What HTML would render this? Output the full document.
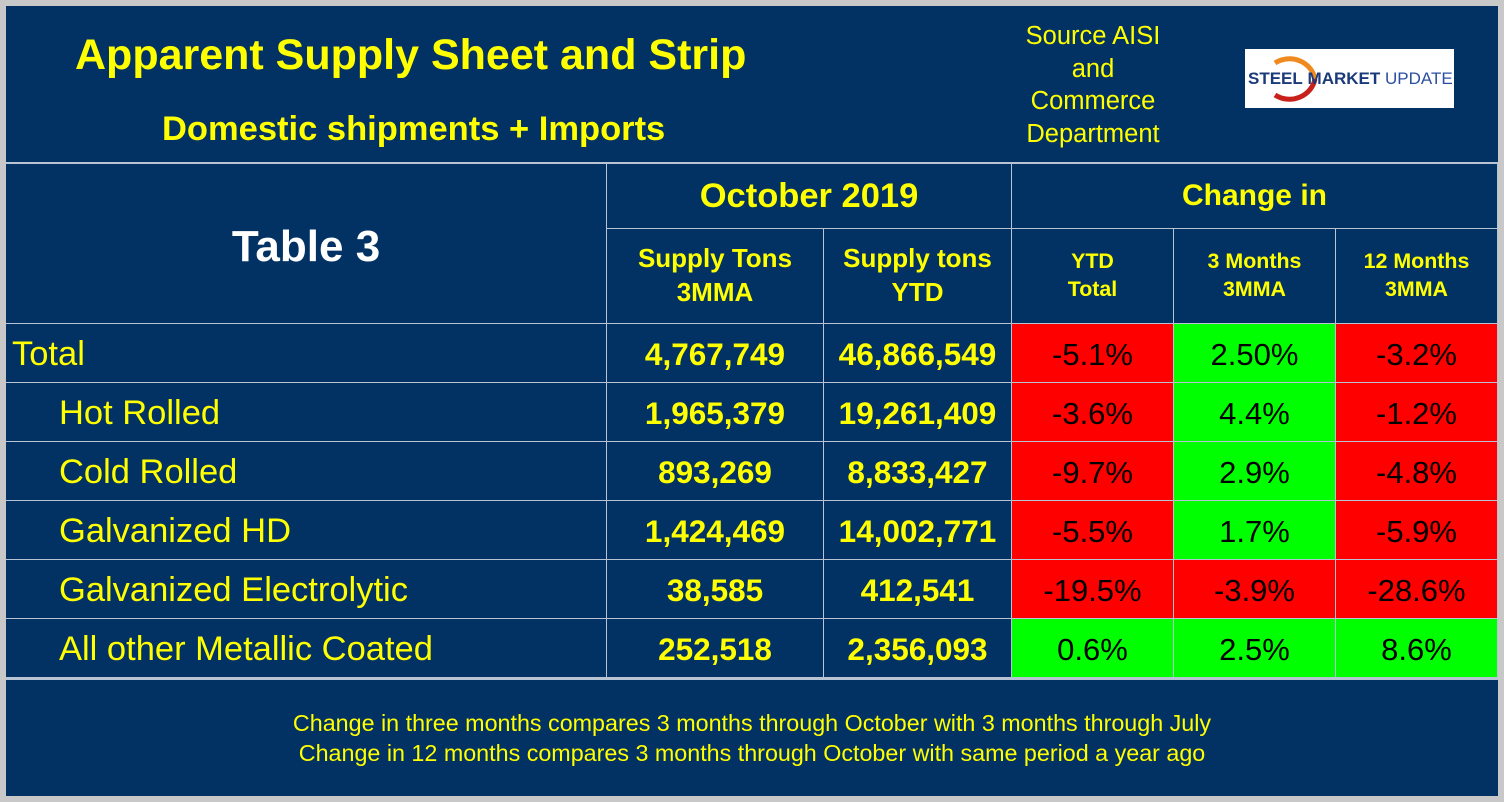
<!DOCTYPE html>
<html><head><meta charset="utf-8"><style>
body{margin:0;width:1504px;height:802px;background:#c8c8c8;position:relative;overflow:hidden;font-family:"Liberation Sans",Arial,sans-serif}
.p{position:absolute;box-sizing:border-box}
.navy{background:#023263}
.c{position:absolute;box-sizing:border-box;display:flex;align-items:center;justify-content:center;text-align:center;border-right:1px solid #b8c4d4;border-bottom:1px solid #b8c4d4;white-space:nowrap}
.y{color:#ffff00}
.b{font-weight:bold}
.red{background:#ff0000;color:#000}
.grn{background:#00ff00;color:#000}
.pct{font-size:31px}
.num{font-size:31.5px;font-weight:bold;color:#ffff00}
.lbl{justify-content:flex-start;font-size:34.5px;color:#ffff00}
</style></head><body>
<div class="p navy" style="left:6px;top:6px;width:1492px;height:790px"></div>
<div class="p y b" style="left:75px;top:31px;font-size:43px;white-space:nowrap">Apparent Supply Sheet and Strip</div>
<div class="p y b" style="left:162px;top:110px;font-size:34.5px;white-space:nowrap">Domestic shipments + Imports</div>
<div class="p y" style="left:1000px;top:20px;width:186px;text-align:center;font-size:25.5px;line-height:32.5px">Source AISI<br>and<br>Commerce<br>Department</div>
<div class="p" style="left:1245px;top:49px;width:209px;height:59px;background:#fff;overflow:hidden">
<svg width="209" height="59" style="position:absolute;left:0;top:0"><path d="M30 14 A26 25 0 0 1 70 30" stroke="#f08a20" stroke-width="5" fill="none"/><path d="M30 46 A26 25 0 0 0 70 30" stroke="#c8201a" stroke-width="5" fill="none"/></svg>
<div style="position:absolute;left:3px;top:20px;font-size:17px;white-space:nowrap;color:#1a3a7a"><b>STEEL</b> <b style="font-weight:600">MARKET</b> <span style="color:#2a4fa0">UPDATE</span></div></div>
<div class="p" style="left:6px;top:162px;width:1492px;height:2px;background:#b8c4d4"></div>
<div id="t"></div>
<div class="p" style="left:6px;top:678px;width:1492px;height:2px;background:#b8c4d4"></div>
<div class="p y" style="left:6px;top:708px;width:1492px;text-align:center;font-size:23.3px;line-height:30px">Change in three months compares 3 months through October with 3 months through July<br>Change in 12 months compares 3 months through October with same period a year ago</div>
<script>
const categories=["Total","Hot Rolled","Cold Rolled","Galvanized HD","Galvanized Electrolytic","All other Metallic Coated"];
const supply3mma=["4,767,749","1,965,379","893,269","1,424,469","38,585","252,518"];
const supplyYtd=["46,866,549","19,261,409","8,833,427","14,002,771","412,541","2,356,093"];
const chgYtd=[-5.1,-3.6,-9.7,-5.5,-19.5,0.6];
const chg3m=[2.50,4.4,2.9,1.7,-3.9,2.5];
const chg12m=[-3.2,-1.2,-4.8,-5.9,-28.6,8.6];
const chg3mLabels=["2.50%","4.4%","2.9%","1.7%","-3.9%","2.5%"];
const t=document.getElementById('t');
const X=[6,607,824,1012,1174,1336,1498];
function cell(x,y,w,h,cls,txt,name,style){const d=document.createElement('div');d.className='c '+cls;d.style.left=x+'px';d.style.top=y+'px';d.style.width=w+'px';d.style.height=h+'px';if(style)d.style.cssText+=style;d.innerHTML=txt;


t.appendChild(d);return d;}
cell(6,164,601,160,'','<span style="color:#fff;font-weight:bold;font-size:44px;position:relative;top:3px">Table 3</span>','table-label','border-left:none');
cell(607,164,405,65,'y b','<span style="font-size:34.5px">October 2019</span>','month-header');
cell(1012,164,486,65,'y b','<span style="font-size:30px">Change in</span>','change-header');
const sub=["Supply Tons<br>3MMA","Supply tons<br>YTD","YTD<br>Total","3 Months<br>3MMA","12 Months<br>3MMA"];
for(let i=0;i<5;i++)cell(X[i+1],229,X[i+2]-X[i+1],95,'y b','<span style="font-size:'+(i<2?26:21.4)+'px;line-height:1.3">'+sub[i]+'</span>','column-header-'+(i+1));
const rowTop=324,rowH=59;
categories.forEach((c,i)=>{const y=rowTop+i*rowH;
const l=cell(6,y,601,rowH,'lbl',c,'row-label-'+i);l.style.paddingLeft=(i==0?6:53)+'px';l.style.paddingTop='3px';
cell(607,y,217,rowH,'num',supply3mma[i],'supply-3mma-'+i,'padding-top:3px');
cell(824,y,188,rowH,'num',supplyYtd[i],'supply-ytd-'+i,'padding-top:3px');
[[chgYtd,v=>v.toFixed(1)+'%'],[chg3m,(v,j)=>chg3mLabels[j]],[chg12m,v=>v.toFixed(1)+'%']].forEach((s,k)=>{const v=s[0][i];
cell(X[k+3],y,X[k+4]-X[k+3],rowH,'pct '+(v<0?'red':'grn'),s[1](v,i),'change-cell-'+k+'-'+i,'padding-top:3px');});
});
</script>
</body></html>
